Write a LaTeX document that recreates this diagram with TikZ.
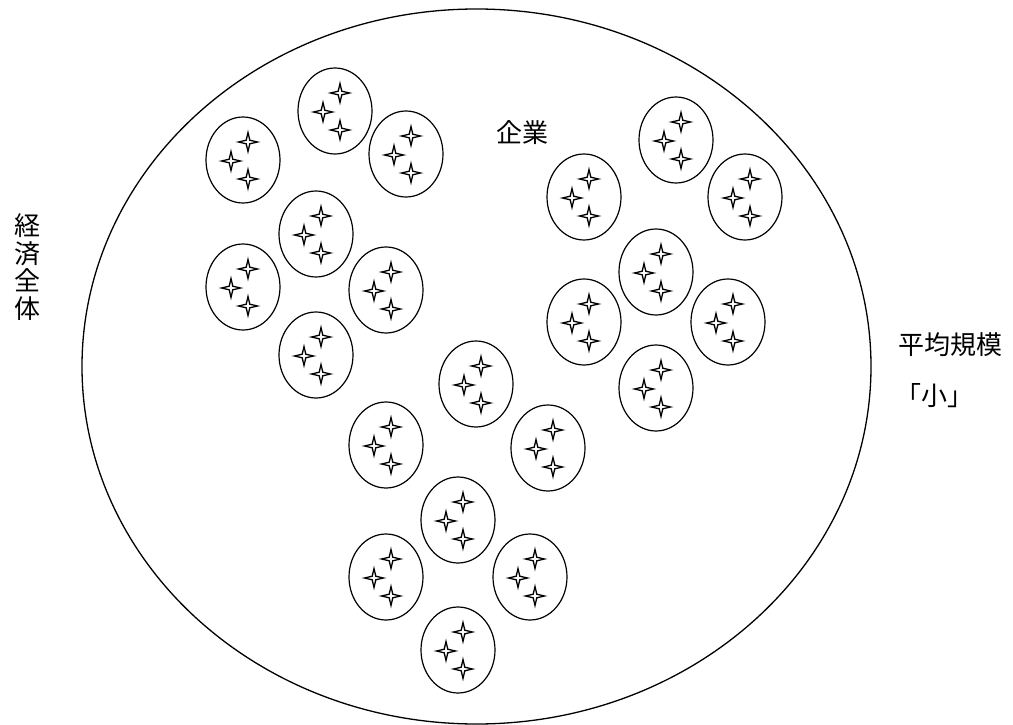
\documentclass[tikz,border=0pt]{standalone}
\usepackage{fontspec}
\newfontfamily\cjk{Noto Sans CJK JP}
\usetikzlibrary{shapes.geometric}
\begin{document}
\begin{tikzpicture}[x=1pt,y=-1pt,
  cell/.style={draw,ellipse,line width=1.2pt,minimum width=74pt,minimum height=86pt,inner sep=0pt},
  world/.style={draw,ellipse,line width=1.3pt,minimum width=789pt,minimum height=715pt,inner sep=0pt},
  sparkle/.style={draw,line width=1.3pt,fill=white,line join=miter},
  lab/.style={font=\cjk\fontsize{26}{27.5}\selectfont,inner sep=0pt}]
\useasboundingbox (0,0) rectangle (1013,725);
\node[world] (economy) at (476.5,366.5) {};
\foreach \n/\x/\y in {
  1/335/111, 2/243/160, 3/406/154, 4/316/234, 5/243/287, 6/386/290, 7/316/355,
  8/676/140, 9/584/197, 10/745/197, 11/656/272, 12/584/322, 13/728/322, 14/656/388,
  15/476/384, 16/386/445, 17/548/448, 18/458/520, 19/386/577, 20/530/577, 21/458/650} {
  \node[cell] (e\n) at (\x,\y) {};
  \foreach \dx/\dy in {5/-18,-12/1,5/19}
    \draw[sparkle,shift={(\x+\dx,\y+\dy)}] (0,-9.5) -- (1.8,-1.8) -- (9.5,0) -- (1.8,1.8) -- (0,9.5) -- (-1.8,1.8) -- (-9.5,0) -- (-1.8,-1.8) -- cycle;
}
\node[lab] (firm) at (522,133) {企業};
\node[lab,align=center] (whole) at (28,267) {経\\済\\全\\体};
\node[lab,anchor=west] (avg) at (898,345) {平均規模};
\node[lab,anchor=west] (small) at (895,396) {「小」};
\end{tikzpicture}
\end{document}
